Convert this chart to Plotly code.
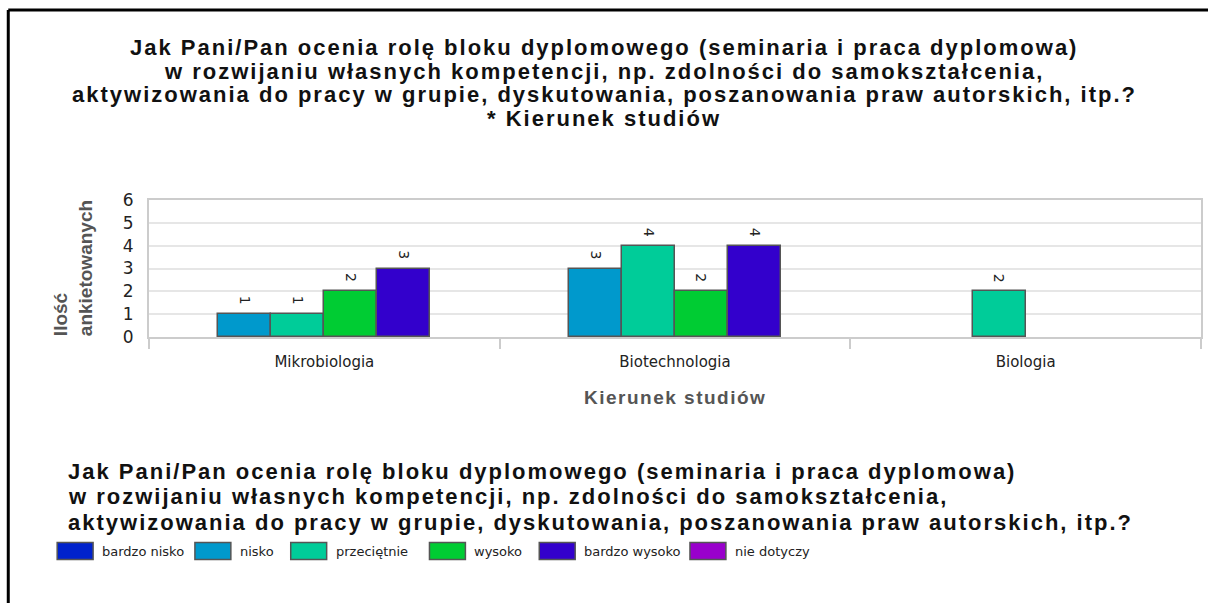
import json
import plotly.graph_objects as go

# ---------------- data ----------------
categories = ["Mikrobiologia", "Biotechnologia", "Biologia"]
series_names = ["bardzo nisko", "nisko", "przeciętnie", "wysoko", "bardzo wysoko", "nie dotyczy"]
series_colors = ["#0022CC", "#0099CC", "#00CC99", "#00CC33", "#3300CC", "#9900CC"]
bardzo_nisko = [None, None, None]
nisko = [1, 3, None]
przecietnie = [1, 4, 2]
wysoko = [2, 2, 0]
bardzo_wysoko = [3, 4, None]
nie_dotyczy = [None, None, None]
series_values = [bardzo_nisko, nisko, przecietnie, wysoko, bardzo_wysoko, nie_dotyczy]
y_ticks = [0, 1, 2, 3, 4, 5, 6]

title_lines = [
    "Jak Pani/Pan ocenia rolę bloku dyplomowego (seminaria i praca dyplomowa)",
    "w rozwijaniu własnych kompetencji, np. zdolności do samokształcenia,",
    "aktywizowania do pracy w grupie, dyskutowania, poszanowania praw autorskich, itp.?",
    "* Kierunek studiów",
]
legend_title_lines = title_lines[:3]
x_title = "Kierunek studiów"
y_title = "Ilość<br>ankietowanych"

# ---------------- layout geometry (pixels) ----------------
W, H = 1208, 603
PL, PR, PT, PB = 149, 1203, 200, 337


def px(x):
    return (x - PL) / (PR - PL)


def py(y):
    return (PB - y) / (PB - PT)


BAR_W = 0.151
TITLE_FONT = dict(family="Liberation Sans", size=22, color="#111111", weight="bold")

fig = go.Figure()
annotations = []
shapes = []

# bars: only present (non-null) values share the slot in each category
for k, (name, vals, col) in enumerate(zip(series_names, series_values, series_colors)):
    xs, ys, offs, lw = [], [], [], []
    for j, v in enumerate(vals):
        if v is None:
            continue
        present = [i for i in range(len(series_values)) if series_values[i][j] is not None]
        n = len(present)
        p = present.index(k)
        off = (p - n / 2) * BAR_W
        xs.append(j)
        ys.append(v)
        offs.append(off)
        lw.append(1.5 if v else 0)
        if v:
            annotations.append(dict(
                text=str(v), xref="x", yref="y", x=j + off + BAR_W / 2, y=v,
                xanchor="center", yanchor="bottom", yshift=7, textangle=90,
                showarrow=False,
                font=dict(family="DejaVu Sans", size=14, color="#222222"),
            ))
    if not xs:
        continue
    fig.add_trace(go.Bar(
        x=xs, y=ys, offset=offs, width=BAR_W, name=name,
        marker=dict(color=col, line=dict(color="#555555", width=lw)),
        cliponaxis=False, showlegend=False,
    ))

# main title
for i, line in enumerate(title_lines):
    annotations.append(dict(
        text=line, xref="paper", yref="paper", x=px(605), y=py(47 + 24 * i),
        xanchor="center", yanchor="middle", showarrow=False, font=TITLE_FONT,
    ))

# axis titles
annotations.append(dict(
    text=x_title, xref="paper", yref="paper", x=0.5, y=py(397),
    xanchor="center", yanchor="middle", showarrow=False,
    font=dict(family="Liberation Sans", size=19, color="#555555", weight="bold"),
))
annotations.append(dict(
    text=y_title, xref="paper", yref="paper", x=px(73), y=py(268),
    xanchor="center", yanchor="middle", showarrow=False, textangle=-90, align="left",
    font=dict(family="Liberation Sans", size=19, color="#555555", weight="bold"),
))

# legend (title + items)
for i, line in enumerate(legend_title_lines):
    annotations.append(dict(
        text=line, xref="paper", yref="paper", x=px(66), y=py(471 + 25.5 * i),
        xanchor="left", yanchor="middle", align="left", showarrow=False, font=TITLE_FONT,
    ))
LEG_X = [57, 195, 291, 430, 540, 691]
LEG_Y = 551
for name, col, lx in zip(series_names, series_colors, LEG_X):
    shapes.append(dict(
        type="rect", xref="paper", yref="paper",
        x0=px(lx), x1=px(lx + 36), y0=py(LEG_Y - 8.5), y1=py(LEG_Y + 8.5),
        fillcolor=col, line=dict(color="#555555", width=1.5),
    ))
    annotations.append(dict(
        text=name, xref="paper", yref="paper", x=px(lx + 43), y=py(LEG_Y),
        xanchor="left", yanchor="middle", showarrow=False,
        font=dict(family="DejaVu Sans", size=13, color="#222222"),
    ))

# outer frame
shapes.append(dict(type="line", xref="paper", yref="paper",
                   x0=px(8), x1=px(W + 5), y0=py(10), y1=py(10),
                   line=dict(color="#000000", width=3)))
shapes.append(dict(type="line", xref="paper", yref="paper",
                   x0=px(8), x1=px(8), y0=py(10), y1=py(H + 5),
                   line=dict(color="#000000", width=3)))

fig.update_layout(
    width=W, height=H,
    margin=dict(l=PL, r=W - PR, t=PT, b=H - PB, pad=0),
    paper_bgcolor="white", plot_bgcolor="white",
    bargap=0, showlegend=False,
    annotations=annotations, shapes=shapes,
    xaxis=dict(
        range=[-0.5, len(categories) - 0.5],
        tickvals=list(range(len(categories))), ticktext=categories,
        ticks="", showgrid=False, zeroline=False,
        showline=True, linecolor="#cccccc", linewidth=2, mirror=True,
        tickfont=dict(family="DejaVu Sans", size=15, color="#222222"),
        ticklabelstandoff=10,
        minor=dict(tickvals=[i - 0.5 for i in range(len(categories) + 1)],
                   ticks="outside", ticklen=10, tickcolor="#cccccc", tickwidth=2,
                   showgrid=False),
        fixedrange=True,
    ),
    yaxis=dict(
        range=[0, 6], tickvals=y_ticks, ticks="",
        showgrid=True, gridcolor="#e6e6e6", gridwidth=2, zeroline=False,
        showline=True, linecolor="#cccccc", linewidth=2, mirror=True,
        tickfont=dict(family="DejaVu Sans", size=17, color="#222222"),
        ticklabelstandoff=10,
        fixedrange=True,
    ),
)

# the reference renders its bold headings with slightly wide letter spacing
spacing = {line: "2px" for line in title_lines}
spacing[x_title] = "1.5px"
post = """
document.body.style.margin='0';
document.body.style.overflow='hidden';
var SP = %s;
document.querySelectorAll('.annotation-text').forEach(function(el){
  var t = el.textContent;
  if (Object.prototype.hasOwnProperty.call(SP, t)) { el.style.letterSpacing = SP[t]; }
});
""" % json.dumps(spacing)

fig.write_html("out.html", config={"displayModeBar": False}, post_script=post)
